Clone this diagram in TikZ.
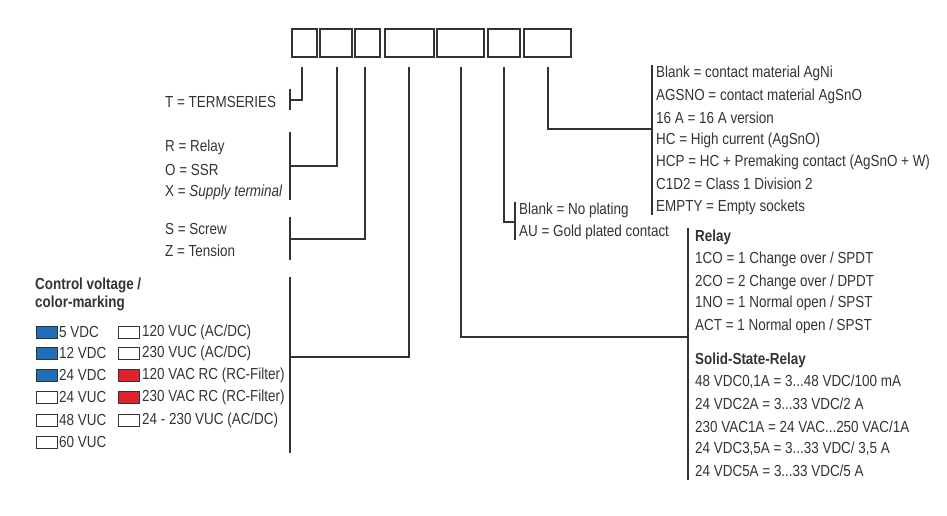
\documentclass[tikz,border=0pt]{standalone}
\usepackage{fontspec}
\setmainfont{Liberation Sans}[FakeStretch=0.84]
\definecolor{swblue}{HTML}{1E6FB8}
\definecolor{swred}{HTML}{E3202B}
\begin{document}
\begin{tikzpicture}[x=1pt,y=-1pt,
  ln/.style={draw=black!80,line width=1.1pt},
  bx/.style={draw=black!80,line width=1.1pt},
  t/.style={anchor=west,inner sep=0pt,text=black!80,font=\fontsize{16}{18}\selectfont},
  tb/.style={t,font=\fontsize{16}{18}\selectfont\bfseries},
  sw/.style={draw=black!80,line width=0.8pt,minimum width=21pt,minimum height=12pt,inner sep=0pt,anchor=west},
  blue/.style={sw,fill=swblue},
  red/.style={sw,fill=swred}]
\useasboundingbox (0,0) rectangle (947,515);
% boxes
\foreach \a/\b/\n in {292/317/1,320/352/2,355/380/3,385/434/4,437/484/5,488/520/6,524/571/7}
  \draw[bx] (\a,29) rectangle (\b,57) coordinate (b\n);
% line 1
\coordinate (a1) at (302,67); \coordinate (c1) at (290,100);
\draw[ln] (a1) |- (c1); \draw[ln] (290,89) -- (290,110);
\node[t] (T) at (165,102) {T = TERMSERIES};
% line 2
\coordinate (a2) at (337,67); \coordinate (c2) at (290,166);
\draw[ln] (a2) |- (c2); \draw[ln] (290,132) -- (290,200);
\node[t] (R) at (165,147) {R = Relay};
\node[t] (O) at (165,170) {O = SSR};
\node[t] (X) at (165,192) {X = \textit{Supply terminal}};
% line 3
\coordinate (a3) at (365,67); \coordinate (c3) at (290,239);
\draw[ln] (a3) |- (c3); \draw[ln] (290,217) -- (290,260);
\node[t] (S) at (165,229) {S = Screw};
\node[t] (Z) at (165,251) {Z = Tension};
% line 4
\coordinate (a4) at (409,67); \coordinate (c4) at (290,357);
\draw[ln] (a4) |- (c4); \draw[ln] (290,277) -- (290,453);
\node[tb] (cv1) at (35,285) {Control voltage /};
\node[tb] (cv2) at (35,303) {color-marking};
\foreach \y/\col/\txt [count=\i] in {332/blue/{5 VDC},353/blue/{12 VDC},375/blue/{24 VDC},397/sw/{24 VUC},420/sw/{48 VUC},442/sw/{60 VUC}}{
  \node[\col] (s\i) at (36,\y) {};
  \node[t] (l\i) at (59,\y) {\txt};}
\foreach \y/\col/\txt [count=\i] in {332/sw/{120 VUC (AC/DC)},353/sw/{230 VUC (AC/DC)},375/red/{120 VAC RC (RC-Filter)},397/red/{230 VAC RC (RC-Filter)},420/sw/{24 - 230 VUC (AC/DC)}}{
  \node[\col] (r\i) at (118,\y) {};
  \node[t] (m\i) at (142,\y) {\txt};}
% line 5
\coordinate (a5) at (461,67); \coordinate (c5) at (688,337);
\draw[ln] (a5) |- (c5); \draw[ln] (688,228) -- (688,480);
\node[tb] (rel) at (695,237) {Relay};
\node[t] (r1t) at (695,259) {1CO = 1 Change over / SPDT};
\node[t] (r2t) at (695,282) {2CO = 2 Change over / DPDT};
\node[t] (r3t) at (695,303) {1NO = 1 Normal open / SPST};
\node[t] (r4t) at (695,326) {ACT = 1 Normal open / SPST};
\node[tb] (ssr) at (695,360) {Solid-State-Relay};
\node[t] (q1) at (695,382) {48 VDC0,1A = 3...48 VDC/100 mA};
\node[t] (q2) at (695,404) {24 VDC2A = 3...33 VDC/2 A};
\node[t] (q3) at (695,427) {230 VAC1A = 24 VAC...250 VAC/1A};
\node[t] (q4) at (695,449) {24 VDC3,5A = 3...33 VDC/ 3,5 A};
\node[t] (q5) at (695,471) {24 VDC5A = 3...33 VDC/5 A};
% line 6
\coordinate (a6) at (504,67); \coordinate (c6) at (515,222);
\draw[ln] (a6) |- (c6); \draw[ln] (515,202) -- (515,240);
\node[t] (p1) at (519,210) {Blank = No plating};
\node[t] (p2) at (519,232) {AU = Gold plated contact};
% line 7
\coordinate (a7) at (548,67); \coordinate (c7) at (652,129);
\draw[ln] (a7) |- (c7); \draw[ln] (652,65) -- (652,215);
\node[t] (k1) at (656,73) {Blank = contact material AgNi};
\node[t] (k2) at (656,96) {AGSNO = contact material AgSnO};
\node[t] (k3) at (656,118) {16 A = 16 A version};
\node[t] (k4) at (656,140) {HC = High current (AgSnO)};
\node[t] (k5) at (656,162) {HCP = HC + Premaking contact (AgSnO + W)};
\node[t] (k6) at (656,184) {C1D2 = Class 1 Division 2};
\node[t] (k7) at (656,207) {EMPTY = Empty sockets};
\end{tikzpicture}
\end{document}
